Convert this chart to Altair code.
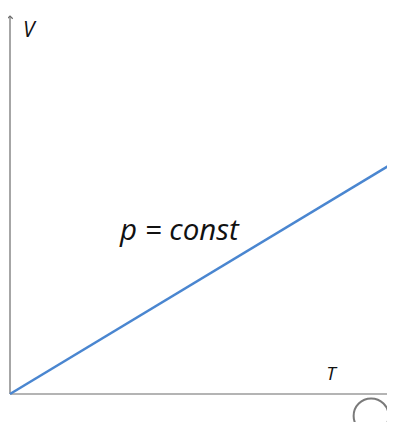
import altair as alt
import pandas as pd

# line data (T, V)
T = [0.0, 1.0]
V = [0.0, 0.614]

# labels
labels = ["V", "T", "p = const"]
label_x = [0.049, 0.834, 0.44]
label_y = [0.944, 0.037, 0.407]
label_size = [21, 19, 29.5]

line_df = pd.DataFrame({"T": T, "V": V})
lab_df = pd.DataFrame({"label": labels, "x": label_x, "y": label_y, "size": label_size})

xs = alt.Scale(domain=[0, 1])
ys = alt.Scale(domain=[0, 1])

axis_x = alt.Chart(pd.DataFrame({"x": [0], "x2": [1], "y": [0]})).mark_rule(
    color="#6b6b6b", strokeWidth=1.2).encode(
    x=alt.X("x:Q", scale=xs, axis=None), x2="x2:Q", y=alt.Y("y:Q", scale=ys, axis=None))
axis_y = alt.Chart(pd.DataFrame({"x": [0], "y": [0], "y2": [1]})).mark_rule(
    color="#6b6b6b", strokeWidth=1.2).encode(
    x=alt.X("x:Q", scale=xs, axis=None), y=alt.Y("y:Q", scale=ys, axis=None), y2="y2:Q")
arrow = alt.Chart(pd.DataFrame({"x": [0], "y": [1]})).mark_point(
    shape="M -1 1 L 0 0 L 1 1", filled=False, color="#6b6b6b", size=30, strokeWidth=1.2,
    opacity=1).encode(x=alt.X("x:Q", scale=xs, axis=None), y=alt.Y("y:Q", scale=ys, axis=None))

line = alt.Chart(line_df).mark_line(color="#4a86d0", strokeWidth=2.5).encode(
    x=alt.X("T:Q", scale=xs, axis=None), y=alt.Y("V:Q", scale=ys, axis=None))

text = alt.Chart(lab_df).mark_text(
    font="Open Sans", fontStyle="italic", color="#111111", align="center", baseline="alphabetic"
).encode(
    x=alt.X("x:Q", scale=xs, axis=None), y=alt.Y("y:Q", scale=ys, axis=None),
    text="label:N", size=alt.Size("size:Q", scale=None, legend=None))

circle = alt.Chart(pd.DataFrame({"x": [0.938], "y": [-0.058]})).mark_point(
    shape="circle", filled=False, color="#7a7a7a", size=1225, strokeWidth=2, opacity=1
).encode(x=alt.X("x:Q", scale=xs, axis=None), y=alt.Y("y:Q", scale=ys, axis=None))

chart = alt.layer(axis_x, axis_y, arrow, line, text, circle).properties(
    width=385, height=378,
    autosize=alt.AutoSizeParams(type="none"),
    padding={"left": 2, "top": 8, "right": -8, "bottom": 28},
).configure_view(stroke=None)

chart.save("out.html", embed_options={"renderer": "svg", "actions": False})
